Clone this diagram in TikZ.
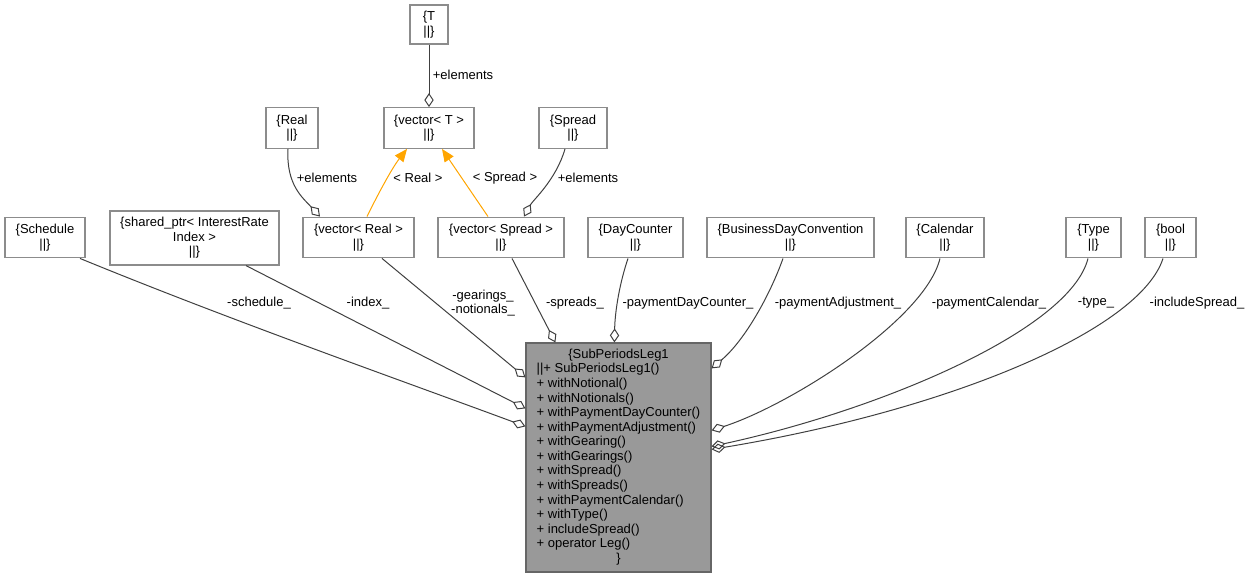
\documentclass[tikz,border=0pt]{standalone}
\usepackage{fontspec}
\setmainfont{Liberation Sans}
\usetikzlibrary{arrows.meta,calc}
\definecolor{edgecol}{HTML}{404040}
\definecolor{boxcol}{HTML}{8C8C8C}
\definecolor{mainfill}{HTML}{999999}
\definecolor{mainborder}{HTML}{666666}
\definecolor{orangecol}{HTML}{FFA500}
\begin{document}
\begin{tikzpicture}[x=0.75pt,y=-0.75pt,
  font=\fontsize{9.75}{10.93}\selectfont,
  box/.style={draw=boxcol, line width=0.9pt, fill=white, inner sep=0pt, minimum height=30.5pt, align=center},
  mainbox/.style={draw=mainborder, line width=0.9pt, fill=mainfill, inner sep=0pt, minimum width=138.75pt, minimum height=171.75pt},
  agg/.style={draw=edgecol, line width=0.75pt, -{Diamond[open, length=10.5pt, width=7pt]}},
  inh/.style={draw=orangecol, line width=0.75pt, -{Triangle[length=9.5pt, width=8pt]}},
  lbl/.style={inner sep=0pt, align=center}]
\useasboundingbox (0,0) rectangle (1249,579);

% nodes
\node[box, minimum width=28.5pt, minimum height=29.25pt] (T) at (429,24.5) {\{T\\||\}};
\node[box, minimum width=67.5pt] (vecT) at (429,128) {\{vector< T >\\||\}};
\node[box, minimum width=39pt] (Real) at (292,128) {\{Real\\||\}};
\node[box, minimum width=51pt] (Spread) at (573,128) {\{Spread\\||\}};
\node[box, minimum width=60pt] (Schedule) at (45,237.5) {\{Schedule\\||\}};
\node[box, minimum width=126.75pt, minimum height=40.5pt] (shared) at (194.5,238) {\{shared\_ptr< InterestRate\\Index >\\||\}};
\node[box, minimum width=83.25pt] (vecReal) at (358.5,237.5) {\{vector< Real >\\||\}};
\node[box, minimum width=94.5pt] (vecSpread) at (501,237.5) {\{vector< Spread >\\||\}};
\node[box, minimum width=71.25pt] (DC) at (635.5,237.5) {\{DayCounter\\||\}};
\node[box, minimum width=125.25pt] (BDC) at (790.5,237.5) {\{BusinessDayConvention\\||\}};
\node[box, minimum width=58.5pt] (Cal) at (945,237.5) {\{Calendar\\||\}};
\node[box, minimum width=41.25pt] (Type) at (1093.5,237.5) {\{Type\\||\}};
\node[box, minimum width=38.25pt] (bool) at (1170.5,237.5) {\{bool\\||\}};

\node[mainbox] (main) at (618.5,457.5) {\renewcommand{\arraystretch}{1}\begin{tabular}{@{}l@{}}
\multicolumn{1}{@{}c@{}}{\{SubPeriodsLeg1}\\
||+ SubPeriodsLeg1()\\
+ withNotional()\\
+ withNotionals()\\
+ withPaymentDayCounter()\\
+ withPaymentAdjustment()\\
+ withGearing()\\
+ withGearings()\\
+ withSpread()\\
+ withSpreads()\\
+ withPaymentCalendar()\\
+ withType()\\
+ includeSpread()\\
+ operator Leg()\\
\multicolumn{1}{@{}c@{}}{\}}
\end{tabular}};

% upper edges
\draw[agg] (T.south) -- (vecT.north);
\draw[agg] ($(Real.south)+(-4,0)$) .. controls (286,185) and (303,198) .. ($(vecReal.north)+(-38.5,0)$);
\draw[agg] ($(Spread.south)+(-8,0)$) .. controls (556,180) and (533,200) .. ($(vecSpread.north)+(23,0)$);
\draw[inh] ($(vecReal.north)+(8.5,0)$) .. controls (377,196) and (392,168) .. ($(vecT.south)+(-22,0)$);
\draw[inh] ($(vecSpread.north)+(-13,0)$) -- ($(vecT.south)+(13,0)$);

% edges to main
\draw[agg] ($(Schedule.south)+(35,0)$) .. controls (230,320) and (400,380) .. ($(main.north west)+(0,84)$);
\draw[agg] ($(shared.south)+(51.5,0)$) -- ($(main.north west)+(0,66)$);
\draw[agg] ($(vecReal.south)+(23.5,0)$) -- ($(main.north west)+(0,35)$);
\draw[agg] ($(vecSpread.south)+(11,0)$) -- ($(main.north west)+(30,0)$);
\draw[agg] ($(DC.south)+(-7.5,0)$) .. controls (620,282) and (615,310) .. ($(main.north west)+(89,0)$);
\draw[agg] ($(BDC.south)+(-7.5,0)$) .. controls (770,295) and (745,340) .. ($(main.north east)+(0,26)$);
\draw[agg] ($(Cal.south)+(-5,0)$) .. controls (925,320) and (790,405) .. ($(main.north east)+(0,88)$);
\draw[agg] ($(Type.south)+(-5.5,0)$) .. controls (1070,330) and (880,410) .. ($(main.north east)+(0,104)$);
\draw[agg] ($(bool.south)+(-7.5,0)$) .. controls (1140,330) and (950,410) .. ($(main.north east)+(0,107)$);

% labels
\node[lbl] (lT) at (463,75) {+elements};
\node[lbl] (lReal) at (327,178) {+elements};
\node[lbl] (lRealT) at (418,178) {< Real >};
\node[lbl] (lSpreadT) at (505,178) {< Spread >};
\node[lbl] (lSpread) at (588,178) {+elements};
\node[lbl] (lsched) at (259,303) {-schedule\_};
\node[lbl] (lindex) at (368,303) {-index\_};
\node[lbl] (lgear) at (483,303) {-gearings\_\\-notionals\_};
\node[lbl] (lspreads) at (575,303) {-spreads\_};
\node[lbl] (lpdc) at (688,303) {-paymentDayCounter\_};
\node[lbl] (lpadj) at (838,303) {-paymentAdjustment\_};
\node[lbl] (lpcal) at (989,303) {-paymentCalendar\_};
\node[lbl] (ltype) at (1096,303) {-type\_};
\node[lbl] (linc) at (1197,303) {-includeSpread\_};
\end{tikzpicture}
\end{document}
